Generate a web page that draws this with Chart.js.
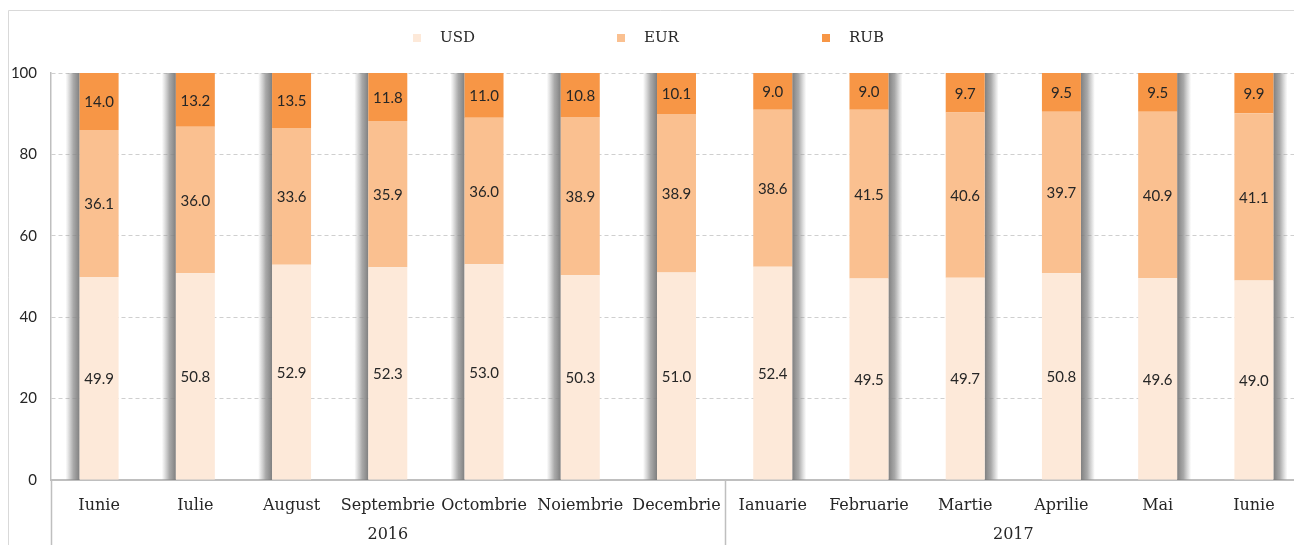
<!DOCTYPE html>
<html>
<head>
<meta charset="utf-8">
<script src="https://cdn.jsdelivr.net/npm/chart.js@4/dist/chart.umd.min.js"></script>
<style>
  html, body { margin: 0; padding: 0; background: #fff; overflow: hidden; }
  #wrap { width: 1294px; height: 545px; overflow: hidden; position: relative; }
  canvas { display: block; }
</style>
</head>
<body>
<div id="wrap"><canvas id="chart" width="1312" height="545"></canvas></div>
<script>
const categories = ['Iunie', 'Iulie', 'August', 'Septembrie', 'Octombrie', 'Noiembrie', 'Decembrie',
    'Ianuarie', 'Februarie', 'Martie', 'Aprilie', 'Mai', 'Iunie'];
const usdValues = [49.9, 50.8, 52.9, 52.3, 53.0, 50.3, 51.0, 52.4, 49.5, 49.7, 50.8, 49.6, 49.0];
const eurValues = [36.1, 36.0, 33.6, 35.9, 36.0, 38.9, 38.9, 38.6, 41.5, 40.6, 39.7, 40.9, 41.1];
const rubValues = [14.0, 13.2, 13.5, 11.8, 11.0, 10.8, 10.1, 9.0, 9.0, 9.7, 9.5, 9.5, 9.9];
const years = ['2016', '2017'];
const yearCounts = [7, 6];
const seriesNames = ['USD', 'EUR', 'RUB'];
const seriesColors = ['#FDE9D9', '#FAC090', '#F79646'];

const serif = '"DejaVu Serif", serif';
const labelFont = 'Lato, "DejaVu Sans", sans-serif';

// gray side shadows behind bars (left in 2016, right in 2017)
const shadowPlugin = {
    id: 'shadows',
    beforeDatasetsDraw(chart) {
        const ctx = chart.ctx;
        const meta = chart.getDatasetMeta(0);
        const y = chart.scales.y;
        const top = y.getPixelForValue(100), bottom = y.getPixelForValue(0);
        ctx.save();
        meta.data.forEach((bar, i) => {
            const half = bar.width / 2;
            const sw = 14;
            let x0, x1, g;
            if (i < yearCounts[0]) {
                x1 = bar.x - half; x0 = x1 - sw;
                g = ctx.createLinearGradient(x0, 0, x1, 0);
                g.addColorStop(0, 'rgba(150,150,150,0)');
                g.addColorStop(0.55, 'rgba(140,140,140,0.75)');
                g.addColorStop(1, 'rgba(120,120,120,0.95)');
            } else {
                x0 = bar.x + half; x1 = x0 + sw;
                g = ctx.createLinearGradient(x0, 0, x1, 0);
                g.addColorStop(0, 'rgba(120,120,120,0.95)');
                g.addColorStop(0.45, 'rgba(140,140,140,0.75)');
                g.addColorStop(1, 'rgba(150,150,150,0)');
            }
            ctx.fillStyle = g;
            ctx.fillRect(x0, top, x1 - x0, bottom - top);
        });
        ctx.restore();
    }
};

const decorPlugin = {
    id: 'decor',
    afterDraw(chart) {
        const ctx = chart.ctx;
        const x = chart.scales.x;
        const area = chart.chartArea;
        ctx.save();

        // outer frame
        ctx.strokeStyle = '#d9d9d9';
        ctx.lineWidth = 1;
        ctx.beginPath();
        ctx.moveTo(8.5, chart.height);
        ctx.lineTo(8.5, 10.5);
        ctx.lineTo(chart.width, 10.5);
        ctx.stroke();

        // data labels
        ctx.fillStyle = '#262626';
        ctx.font = '15px ' + labelFont;
        ctx.textAlign = 'center';
        ctx.textBaseline = 'middle';
        chart.data.datasets.forEach((ds, di) => {
            chart.getDatasetMeta(di).data.forEach((bar, i) => {
                const yc = (bar.y + bar.base) / 2;
                ctx.fillText(ds.data[i].toFixed(1), bar.x, yc + 1);
            });
        });

        // group separators and year labels
        ctx.strokeStyle = '#bfbfbf';
        ctx.lineWidth = 1.5;
        const step = x.getPixelForValue(1) - x.getPixelForValue(0);
        let start = 0;
        ctx.font = '16px ' + serif;
        ctx.fillStyle = '#262626';
        years.forEach((yr, k) => {
            const left = x.getPixelForValue(start) - step / 2;
            const right = x.getPixelForValue(start + yearCounts[k] - 1) + step / 2;
            ctx.beginPath();
            ctx.moveTo(Math.round(left) + 0.5, area.bottom);
            ctx.lineTo(Math.round(left) + 0.5, chart.height);
            ctx.stroke();
            ctx.fillText(yr, (left + right) / 2, 535);
            start += yearCounts[k];
        });

        // legend
        const legendX = [413, 617, 822];
        ctx.font = '15px ' + serif;
        ctx.textAlign = 'left';
        seriesNames.forEach((name, i) => {
            ctx.fillStyle = seriesColors[i];
            ctx.fillRect(legendX[i], 34, 8, 8);
            ctx.fillStyle = '#262626';
            ctx.fillText(name, legendX[i] + 27, 38);
        });
        ctx.restore();
    }
};

const ctx = document.getElementById('chart').getContext('2d');
const chart = new Chart(ctx, {
    type: 'bar',
    data: {
        labels: categories,
        datasets: [
            { label: seriesNames[0], data: usdValues, backgroundColor: seriesColors[0] },
            { label: seriesNames[1], data: eurValues, backgroundColor: seriesColors[1] },
            { label: seriesNames[2], data: rubValues, backgroundColor: seriesColors[2] }
        ]
    },
    options: {
        responsive: false,
        animation: false,
        layout: { padding: { top: 73, right: 10, left: 0, bottom: 0 } },
        datasets: {
            bar: { barPercentage: 0.405, categoryPercentage: 1, borderWidth: 0 }
        },
        plugins: {
            legend: { display: false },
            tooltip: { enabled: false }
        },
        scales: {
            x: {
                stacked: true,
                grid: { display: false },
                border: { display: true, color: '#bfbfbf', width: 2 },
                ticks: {
                    color: '#262626',
                    font: { family: serif, size: 16 },
                    padding: 8,
                    maxRotation: 0,
                    autoSkip: false
                },
                afterFit(scale) { scale.height = 65; }
            },
            y: {
                stacked: true,
                min: 0,
                max: 100,
                ticks: {
                    stepSize: 20,
                    color: '#262626',
                    font: { family: labelFont, size: 15 },
                    padding: 14
                },
                grid: {
                    color: '#cfcfcf',
                    drawTicks: false
                },
                border: { display: true, color: '#bfbfbf', width: 1.5, dash: [4, 3] },
                afterFit(scale) { scale.width = 51; }
            }
        }
    },
    plugins: [shadowPlugin, decorPlugin]
});
</script>
</body>
</html>
